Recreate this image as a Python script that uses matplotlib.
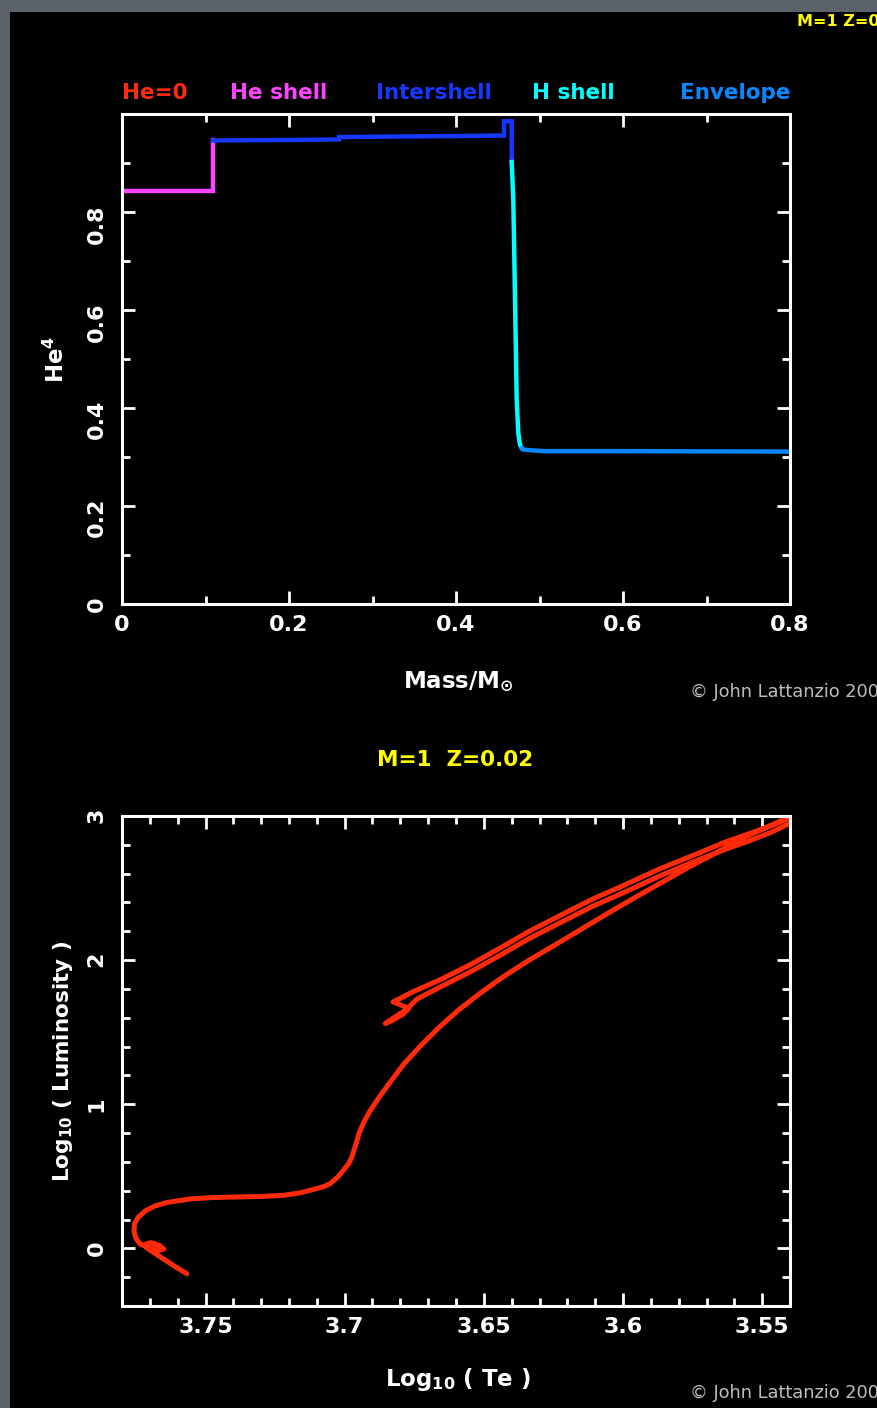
import matplotlib
matplotlib.use("Agg")
import matplotlib.pyplot as plt
from matplotlib.patches import Rectangle
from matplotlib.ticker import MultipleLocator, FixedLocator, FixedFormatter

plt.rcParams['font.family'] = ['DejaVu Sans']
plt.rcParams['mathtext.default'] = 'regular'

# ---- helium profile through the star (mass coordinate vs He4 abundance) ----
zone_names = ["He=0", "He shell", "Intershell", "H shell", "Envelope"]
zone_colors = ["#ff2a12", "#ff44ff", "#1637ff", "#00ffff", "#0a86ff"]

heshell_mass = [0.0, 0.1094, 0.1094]
heshell_he4 = [0.842, 0.842, 0.946]

inter_mass = [0.1094, 0.20, 0.26, 0.26, 0.40, 0.4575, 0.4575, 0.4667, 0.4667]
inter_he4 = [0.946, 0.947, 0.948, 0.953, 0.955, 0.956, 0.985, 0.985, 0.902]

hshell_mass = [0.4667, 0.4686, 0.4707, 0.4727, 0.4746, 0.4766, 0.4790]
hshell_he4 = [0.902, 0.827, 0.622, 0.417, 0.349, 0.325, 0.318]

env_mass = [0.4790, 0.4806, 0.5045, 0.60, 0.80]
env_he4 = [0.318, 0.315, 0.312, 0.312, 0.311]

mass_ticks = [0.0, 0.2, 0.4, 0.6, 0.8]
mass_ticklabels = ["0", "0.2", "0.4", "0.6", "0.8"]
he4_ticks = [0.0, 0.2, 0.4, 0.6, 0.8]
he4_ticklabels = ["0", "0.2", "0.4", "0.6", "0.8"]

# ---- evolutionary track in the HR diagram ----
log_te = [
    3.7567, 3.7610, 3.7650, 3.7685, 3.7712, 3.7715, 3.7695, 3.7665, 3.7650,
    3.7668, 3.7700, 3.7735, 3.7750, 3.7757, 3.7755, 3.7742, 3.7715, 3.7680,
    3.7639, 3.7555, 3.7480, 3.7400, 3.7300, 3.7220, 3.7160, 3.7124, 3.7080,
    3.7052, 3.7025, 3.7004, 3.6985, 3.6974, 3.6960, 3.6948, 3.6930, 3.6910,
    3.6872, 3.6830, 3.6787, 3.6725, 3.6659, 3.6590, 3.6514, 3.6430, 3.6337,
    3.6240, 3.6145, 3.6050, 3.5952, 3.5855, 3.5759, 3.5660, 3.5567, 3.5480,
    3.5406, 3.5370,
    3.5400, 3.5470, 3.5550, 3.5631, 3.5750, 3.5872, 3.5990, 3.6113, 3.6225,
    3.6337, 3.6440, 3.6547, 3.6650, 3.6740, 3.6776, 3.6820, 3.6854,
    3.6830, 3.6790, 3.6770, 3.6800, 3.6826,
    3.6790, 3.6755, 3.6650, 3.6547, 3.6440, 3.6337, 3.6225, 3.6113, 3.5990,
    3.5872, 3.5750, 3.5631, 3.5550, 3.5470, 3.5400, 3.5360,
]
log_lum = [
    -0.176, -0.125, -0.075, -0.030, 0.005, 0.030, 0.040, 0.020, -0.005,
    -0.015, 0.005, 0.030, 0.070, 0.120, 0.170, 0.215, 0.262, 0.295,
    0.318, 0.343, 0.352, 0.356, 0.360, 0.368, 0.385, 0.403, 0.425,
    0.449, 0.495, 0.542, 0.590, 0.634, 0.720, 0.800, 0.880, 0.950,
    1.060, 1.170, 1.280, 1.410, 1.537, 1.655, 1.769, 1.885, 2.000,
    2.110, 2.220, 2.330, 2.440, 2.545, 2.650, 2.750, 2.850, 2.925,
    2.990, 3.020,
    2.950, 2.885, 2.825, 2.770, 2.680, 2.580, 2.475, 2.370, 2.260,
    2.150, 2.035, 1.920, 1.820, 1.730, 1.660, 1.605, 1.560,
    1.580, 1.625, 1.665, 1.690, 1.710,
    1.745, 1.780, 1.870, 1.970, 2.085, 2.200, 2.310, 2.420, 2.525,
    2.630, 2.725, 2.820, 2.875, 2.930, 2.990, 3.030,
]

te_ticks = [3.75, 3.70, 3.65, 3.60, 3.55]
te_ticklabels = ["3.75", "3.7", "3.65", "3.6", "3.55"]
lum_ticks = [0, 1, 2, 3]
lum_ticklabels = ["0", "1", "2", "3"]

W, H = 878, 1408
fig = plt.figure(figsize=(W / 100, H / 100), dpi=100, facecolor="#5c6269")
fig.patches.append(Rectangle((10 / W, 0), 1 - 10 / W, 1 - 12 / H,
                             transform=fig.transFigure, facecolor="black",
                             edgecolor="none", zorder=-10))


def px_box(left, top, right, bottom):
    return [left / W, 1 - bottom / H, (right - left) / W, (bottom - top) / H]


def style_axes(ax):
    ax.set_zorder(2)
    ax.set_facecolor("black")
    for sp in ax.spines.values():
        sp.set_color("white")
        sp.set_linewidth(2.2)
    ax.tick_params(which="both", direction="in", top=True, right=True,
                   colors="white", width=2.0)
    ax.tick_params(which="major", length=9.5)
    ax.tick_params(which="minor", length=5.8)
    ax.tick_params(axis="x", which="major", pad=8, labelsize=16)
    ax.tick_params(axis="y", which="major", pad=11, labelsize=16,
                   labelrotation=90)
    for lab in ax.get_xticklabels() + ax.get_yticklabels():
        lab.set_fontweight("bold")


# ---- upper panel: He4 profile ----
ax1 = fig.add_axes(px_box(122, 114, 790, 604))
ax1.plot(heshell_mass, heshell_he4, color=zone_colors[1], lw=3.2,
         solid_joinstyle="miter")
ax1.plot(inter_mass, inter_he4, color=zone_colors[2], lw=3.2,
         solid_joinstyle="miter")
ax1.plot(hshell_mass, hshell_he4, color=zone_colors[3], lw=3.2)
ax1.plot(env_mass, env_he4, color=zone_colors[4], lw=3.2)
ax1.set_xlim(0, 0.8)
ax1.set_ylim(0, 1.0)
ax1.xaxis.set_major_locator(FixedLocator(mass_ticks))
ax1.xaxis.set_major_formatter(FixedFormatter(mass_ticklabels))
ax1.yaxis.set_major_locator(FixedLocator(he4_ticks))
ax1.yaxis.set_major_formatter(FixedFormatter(he4_ticklabels))
ax1.xaxis.set_minor_locator(MultipleLocator(0.1))
ax1.yaxis.set_minor_locator(MultipleLocator(0.1))
style_axes(ax1)
ax1.set_xlabel(r"Mass/M$_{\odot}$", color="white", fontsize=16.5,
               fontweight="bold")
ax1.xaxis.set_label_coords(0.503, -0.135)
ax1.set_ylabel(r"He$^{4}$", color="white", fontsize=16.5, fontweight="bold")
ax1.yaxis.set_label_coords(-0.080, 0.5)

label_x = [122, 230, 376, 532, 680]
for name, col, x in zip(zone_names, zone_colors, label_x):
    fig.text(x / W, 1 - 93 / H, name, color=col, fontsize=15.5,
             fontweight="bold", ha="left", va="center")

# ---- lower panel: HR diagram ----
ax2 = fig.add_axes(px_box(122, 816, 790, 1306))
ax2.plot(log_te, log_lum, color="#ff2a0a", lw=3.6, solid_joinstyle="round",
         solid_capstyle="round")
ax2.set_xlim(3.78, 3.54)
ax2.set_ylim(-0.4, 3.0)
ax2.xaxis.set_major_locator(FixedLocator(te_ticks))
ax2.xaxis.set_major_formatter(FixedFormatter(te_ticklabels))
ax2.yaxis.set_major_locator(FixedLocator(lum_ticks))
ax2.yaxis.set_major_formatter(FixedFormatter(lum_ticklabels))
ax2.xaxis.set_minor_locator(MultipleLocator(0.01))
ax2.yaxis.set_minor_locator(MultipleLocator(0.2))
style_axes(ax2)
ax2.set_xlabel(r"Log$_{10}$ ( Te )", color="white", fontsize=16.5,
               fontweight="bold")
ax2.xaxis.set_label_coords(0.503, -0.122)
ax2.set_ylabel(r"Log$_{10}$ ( Luminosity )", color="white", fontsize=15.5,
               fontweight="bold")
ax2.yaxis.set_label_coords(-0.070, 0.5)

# ---- annotations ----
fig.text(455 / W, 1 - 760 / H, "M=1  Z=0.02", color="#ffff00", fontsize=15.5,
         fontweight="bold", ha="center", va="center")
fig.text(797 / W, 1 - 21 / H, "M=1 Z=0.02", color="#ffff00", fontsize=11.5,
         fontweight="bold", ha="left", va="center")
for y in (692, 1393):
    fig.text(690 / W, 1 - y / H, "\u00a9 John Lattanzio 2008", color="#bdbdbd",
             fontsize=12.8, ha="left", va="center")

fig.savefig("out.png", dpi=100, facecolor=fig.get_facecolor())
